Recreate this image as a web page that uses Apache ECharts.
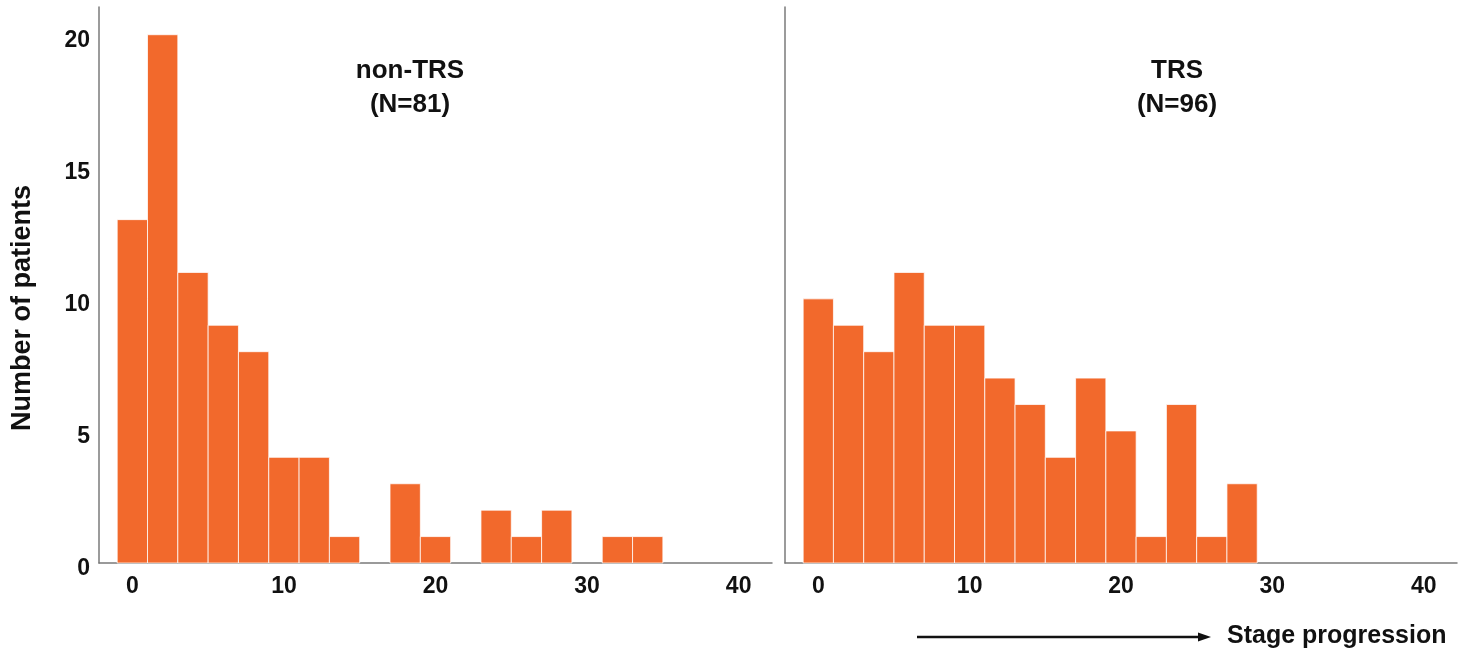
<!DOCTYPE html>
<html>
<head>
<meta charset="utf-8">
<script src="https://cdn.jsdelivr.net/npm/echarts@6/dist/echarts.min.js"></script>
<style>
html,body{margin:0;padding:0;background:#fff;}
#chart{width:1468px;height:654px;}
</style>
</head>
<body>
<div id="chart"></div>
<script>
// ---- data ----
const binCenters = [0, 2, 4, 6, 8, 10, 12, 14, 16, 18, 20, 22, 24, 26, 28, 30, 32, 34];
const nonTrsCounts = [13, 20, 11, 9, 8, 4, 4, 1, 0, 3, 1, 0, 2, 1, 2, 0, 1, 1];
const trsCounts = [10, 9, 8, 11, 9, 9, 7, 6, 4, 7, 5, 1, 6, 1, 3, 0, 0, 0];
const binWidth = 2;
const xTickLabels = [0, 10, 20, 30, 40];
const yTickLabels = [0, 5, 10, 15, 20];
const panelTitles = ['non-TRS\n(N=81)', 'TRS\n(N=96)'];
const yAxisTitle = 'Number of patients';
const footerText = 'Stage progression';

const BAR = '#F2692C';
const AXIS = '#7a7a7a';
const FONT = '"Liberation Sans", Arial, sans-serif';

function toData(counts) {
  const out = [];
  binCenters.forEach((c, i) => { if (counts[i] > 0) out.push([c, counts[i]]); });
  return out;
}

function renderBar(params, api) {
  const c = api.value(0);
  const v = api.value(1);
  const p0 = api.coord([c - binWidth / 2, v]);
  const p1 = api.coord([c + binWidth / 2, 0]);
  return {
    type: 'rect',
    shape: { x: p0[0], y: p0[1], width: p1[0] - p0[0], height: p1[1] - p0[1] },
    style: { fill: BAR, stroke: 'rgba(255,255,255,0.75)', lineWidth: 1 }
  };
}

function xAxis(idx) {
  return {
    type: 'value', gridIndex: idx, min: -2.2, max: 42.2,
    axisLine: { show: true, onZero: false, lineStyle: { color: AXIS, width: 1.5 } },
    axisTick: { show: false },
    splitLine: { show: false },
    axisLabel: {
      customValues: xTickLabels, margin: 12,
      color: '#111', fontSize: 23, fontWeight: 'bold', fontFamily: FONT
    }
  };
}
function yAxis(idx, showLabels) {
  return {
    type: 'value', gridIndex: idx, min: 0, max: 21.05,
    axisLine: { show: true, onZero: false, lineStyle: { color: AXIS, width: 1.5 } },
    axisTick: { show: false },
    splitLine: { show: false },
    axisLabel: {
      show: showLabels, customValues: yTickLabels, margin: 9,
      verticalAlign: 'top', lineHeight: 12,
      color: '#111', fontSize: 23, fontWeight: 'bold', fontFamily: FONT
    }
  };
}

const chart = echarts.init(document.getElementById('chart'), null, { renderer: 'canvas' });
chart.setOption({
  backgroundColor: '#fff',
  animation: false,
  title: [
    { text: panelTitles[0], left: 405, top: 49, textAlign: 'center',
      textStyle: { fontSize: 26, fontWeight: 'bold', fontFamily: FONT, color: '#111', lineHeight: 34 } },
    { text: panelTitles[1], left: 1172, top: 49, textAlign: 'center',
      textStyle: { fontSize: 26, fontWeight: 'bold', fontFamily: FONT, color: '#111', lineHeight: 34 } }
  ],
  grid: [
    { left: 99, right: 696, top: 7, bottom: 91 },
    { left: 785, right: 11, top: 7, bottom: 91 }
  ],
  xAxis: [xAxis(0), xAxis(1)],
  yAxis: [yAxis(0, true), yAxis(1, false)],
  series: [
    { type: 'custom', xAxisIndex: 0, yAxisIndex: 0, encode: { x: 0, y: 1 },
      data: toData(nonTrsCounts), renderItem: renderBar },
    { type: 'custom', xAxisIndex: 1, yAxisIndex: 1, encode: { x: 0, y: 1 },
      data: toData(trsCounts), renderItem: renderBar }
  ],
  graphic: [
    { type: 'text', x: 23, y: 308, rotation: Math.PI / 2,
      style: { text: yAxisTitle, fontSize: 27, fontWeight: 'bold', fontFamily: FONT,
               fill: '#111', align: 'center', verticalAlign: 'middle' } },
    { type: 'line', shape: { x1: 917, y1: 637, x2: 1201, y2: 637 },
      style: { stroke: '#111', lineWidth: 2.5 } },
    { type: 'polygon', shape: { points: [[1198, 632.5], [1211, 637], [1198, 641.5]] },
      style: { fill: '#111' } },
    { type: 'text', x: 1227, y: 636,
      style: { text: footerText, fontSize: 25, fontWeight: 'bold', fontFamily: FONT,
               fill: '#111', align: 'left', verticalAlign: 'middle' } }
  ]
});
</script>
</body>
</html>
